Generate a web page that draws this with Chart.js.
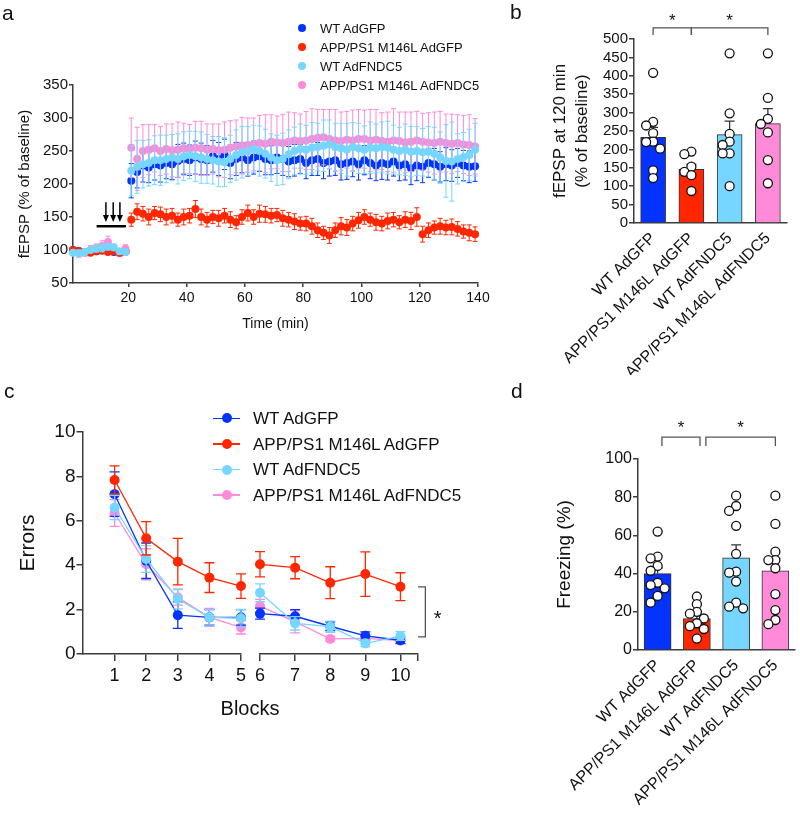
<!DOCTYPE html>
<html>
<head>
<meta charset="utf-8">
<title>FNDC5 rescues LTP and memory</title>
<script src="https://cdn.jsdelivr.net/npm/chart.js@4.4.1/dist/chart.umd.min.js"></script>
<style>
  body { margin: 0; background: #fff; }
  #page { position: relative; width: 800px; height: 816px; overflow: hidden;
          font-family: 'Liberation Sans', Arial, Helvetica, sans-serif; color: #111; }
  #page canvas { position: absolute; }
  .txt { position: absolute; line-height: 1; white-space: nowrap; }
  .dot { position: absolute; border-radius: 50%; }
  .seg { position: absolute; height: 1.5px; }
</style>
</head>
<body>
<div id="page">
  <canvas id="chartA" width="500" height="345" style="left:0;top:0"></canvas>
  <canvas id="chartB" width="310" height="375" style="left:490px;top:0"></canvas>
  <canvas id="chartC1" width="255" height="340" style="left:0;top:380px"></canvas>
  <canvas id="chartC2" width="230" height="340" style="left:250px;top:380px"></canvas>
  <canvas id="chartD" width="310" height="436" style="left:490px;top:380px"></canvas>
  <div class="txt" style="left:2px;top:2px;font-size:21px">a</div>
  <div class="txt" style="left:510px;top:1px;font-size:21px">b</div>
  <div class="txt" style="left:4px;top:380px;font-size:21px">c</div>
  <div class="txt" style="left:511px;top:380px;font-size:21px">d</div>
  <div class="txt" style="left:250px;top:698px;font-size:20px;transform:translateX(-50%)">Blocks</div>
</div>
<script>
// groups, same order in every panel
const groups = ['WT AdGFP', 'APP/PS1 M146L AdGFP', 'WT AdFNDC5', 'APP/PS1 M146L AdFNDC5'];
const colors = ['#0433ff', '#ff2600', '#76d6ff', '#ff8ad8'];

// a: fEPSP slope (% of baseline), one point every 2 min
const timeA = [1,3,5,7,9,11,13,15,17,19,21,23,25,27,29,31,33,35,37,39,41,43,45,47,49,51,53,55,57,59,
  61,63,65,67,69,71,73,75,77,79,81,83,85,87,89,91,93,95,97,99,101,103,105,107,109,111,113,115,117,119,
  121,123,125,127,129,131,133,135,137,139];
const fepspWtGfp = [100,98,97,99,98,100,99,97,96,98,
  205,218,228,225,230,228,232,230,235,238,
  236,240,238,236,242,238,245,232,238,240,
  236,240,242,238,236,240,238,234,236,238,
  232,236,238,232,234,236,230,232,234,230,
  236,232,228,232,230,234,228,230,224,228,
  226,232,230,226,230,228,232,228,226,227];
const fepspAppGfp = [100,98,97,96,98,99,97,98,96,97,
  146,158,155,150,156,154,150,152,146,150,
  152,162,150,146,150,148,152,146,142,150,
  156,150,155,154,152,153,148,146,143,140,
  140,136,130,126,122,130,136,134,140,145,
  150,146,142,140,144,146,142,146,144,150,
  124,130,134,136,134,135,132,128,126,124];
const fepspWtFndc = [96,95,97,100,102,103,105,104,98,97,
  220,226,230,232,236,236,238,240,238,242,
  244,242,240,238,236,234,233,238,244,248,
  250,253,250,246,240,236,238,245,250,253,
  252,255,256,258,260,256,254,252,256,254,
  252,255,254,256,255,252,250,252,249,250,
  248,249,246,240,235,234,238,241,244,252];
const fepspAppFndc = [98,95,96,100,103,106,112,100,95,102,
  255,238,250,252,254,250,253,251,252,254,
  253,255,254,252,253,251,252,255,257,258,
  259,260,262,261,264,263,262,264,266,265,
  266,268,270,271,268,266,265,267,266,268,
  268,266,267,265,264,266,265,263,264,266,
  264,263,262,264,262,261,262,260,259,257];
const semWtGfp = [4,5,4,5,4,5,4,4,5,4,
  26,24,25,23,24,25,24,23,25,24,
  23,25,24,22,24,25,23,24,25,23,
  24,25,23,24,22,24,25,23,24,22,
  24,23,25,24,22,23,24,25,23,24,
  22,24,23,25,24,22,23,24,25,23,
  24,22,24,23,25,24,22,23,24,23];
const semAppGfp = [3,4,3,4,3,4,3,3,4,3,
  10,12,11,12,10,11,12,11,10,12,
  11,13,12,11,10,12,11,12,10,11,
  12,11,13,12,11,10,12,11,12,10,
  11,12,11,10,12,11,13,12,11,12,
  11,10,12,11,12,11,10,12,13,14,
  12,11,10,12,11,12,11,10,12,11];
const semWtFndc = [4,5,5,4,5,6,5,5,4,5,
  38,40,36,35,37,38,36,35,38,37,
  36,38,39,37,36,38,37,36,38,39,
  37,36,38,37,36,38,39,37,36,38,
  37,38,36,39,37,36,38,40,37,38,
  36,39,37,38,40,37,36,39,38,37,
  36,38,40,39,55,60,38,37,39,40];
const semAppFndc = [5,6,5,7,6,8,9,6,5,6,
  45,48,40,38,36,37,38,40,42,38,
  37,40,41,39,38,40,42,41,40,43,
  41,40,42,44,41,40,43,45,42,41,
  44,46,43,42,45,47,44,43,46,45,
  44,47,46,43,45,48,44,46,45,44,
  43,45,47,46,44,45,43,44,46,42];
const xTicksA = [20, 40, 60, 80, 100, 120, 140];
const yTicksA = [50, 100, 150, 200, 250, 300, 350];

// b: fEPSP at 120 min
const ltpMeans = [233, 146, 240, 270];
const ltpSem = [27, 13, 37, 41];
const ltpPoints = [
  [408, 275, 265, 244, 221, 220, 202, 143, 122],
  [194, 187, 153, 139, 130, 87],
  [461, 298, 242, 221, 212, 189, 189, 100],
  [461, 340, 283, 269, 246, 171, 108]
];
const yTicksB = [0, 50, 100, 150, 200, 250, 300, 350, 400, 450, 500];

// c: errors per block
const blocks = [1, 2, 3, 4, 5, 6, 7, 8, 9, 10];
const mazeWtGfp = [7.2, 4.2, 1.75, 1.65, 1.65, 1.82, 1.7, 1.25, 0.82, 0.62];
const mazeAppGfp = [7.84, 5.21, 4.16, 3.44, 3.06, 4.04, 3.89, 3.21, 3.6, 3.03];
const mazeWtFndc = [6.6, 4.28, 2.48, 1.65, 1.61, 2.76, 1.38, 1.23, 0.48, 0.81];
const mazeAppFndc = [6.35, 4.04, 2.55, 1.65, 1.2, 2.16, 1.45, 0.68, 0.7, 0.6];
const semMazeWtGfp = [1.0, 0.8, 0.6, 0.35, 0.35, 0.25, 0.3, 0.2, 0.18, 0.15];
const semMazeAppGfp = [0.63, 0.75, 1.05, 0.67, 0.55, 0.57, 0.5, 0.72, 1.0, 0.63];
const semMazeWtFndc = [0.55, 0.6, 0.45, 0.35, 0.4, 0.4, 0.3, 0.25, 0.15, 0.2];
const semMazeAppFndc = [0.6, 0.7, 0.35, 0.4, 0.3, 0.3, 0.5, 0.1, 0.1, 0.12];
const yTicksC = [0, 2, 4, 6, 8, 10];

// d: freezing (%)
const freezeMeans = [40, 16.5, 48.3, 41.5];
const freezeSem = [2.9, 2.1, 6.7, 6.5];
const freezePoints = [
  [62, 48.9, 48, 44, 41.5, 35.2, 34, 32.3, 28.3, 24.8],
  [28, 24, 20, 19, 16.5, 14, 12.5, 11, 6],
  [80.8, 75.4, 72.8, 65, 50.3, 41, 40.5, 35.8, 24.8, 22.7, 21.8],
  [80.8, 66, 51.5, 47.1, 47.1, 42.8, 29.3, 20.9, 15.7, 13.5]
];
const yTicksD = [0, 20, 40, 60, 80, 100];

// ---------------------------------------------------------------
const FONT = "'Liberation Sans', Arial, Helvetica, sans-serif";
const INK = '#111';
const AXIS = '#3c3c3c';

Chart.defaults.font.family = FONT;
Chart.defaults.color = INK;
Chart.defaults.animation = false;
Chart.defaults.responsive = false;
Chart.defaults.plugins.legend.display = false;
Chart.defaults.plugins.tooltip.enabled = false;

// error bars: dataset.errors holds the SEM of each point
function drawErrors(chart, index, onTop) {
  const ds = chart.data.datasets[index];
  if (!ds.errors || !!ds.errorsOnTop !== onTop) return;
  const meta = chart.getDatasetMeta(index);
  const y = chart.scales[meta.yAxisID];
  const ctx = chart.ctx;
  const cap = ds.errorCap || 3;
  ctx.save();
  ctx.strokeStyle = ds.errorColor || ds.borderColor;
  ctx.lineWidth = ds.errorWidth || 1;
  ctx.beginPath();
  meta.data.forEach((el, i) => {
    const v = ds.data[i].y, e = ds.errors[i];
    const top = y.getPixelForValue(v + e);
    const bot = ds.errorsUpOnly ? y.getPixelForValue(v) : y.getPixelForValue(v - e);
    ctx.moveTo(el.x, top); ctx.lineTo(el.x, bot);
    ctx.moveTo(el.x - cap, top); ctx.lineTo(el.x + cap, top);
    if (!ds.errorsUpOnly) { ctx.moveTo(el.x - cap, bot); ctx.lineTo(el.x + cap, bot); }
  });
  ctx.stroke();
  ctx.restore();
}
Chart.register({
  id: 'errorBars',
  beforeDatasetDraw(chart, args) { drawErrors(chart, args.index, false); },
  afterDatasetDraw(chart, args) { drawErrors(chart, args.index, true); }
});

// significance brackets + stars, given in data units
function bracketPlugin(items, starSize) {
  return {
    id: 'brackets',
    afterDraw(chart) {
      const { ctx, scales: { x, y } } = chart;
      ctx.save();
      ctx.strokeStyle = '#555';
      ctx.lineWidth = 1.3;
      ctx.fillStyle = INK;
      ctx.font = starSize + 'px ' + FONT;
      ctx.textAlign = 'center';
      ctx.textBaseline = 'alphabetic';
      items.forEach(b => {
        ctx.beginPath();
        b.path.forEach(([px, py], k) => {
          const X = x.getPixelForValue(px), Y = y.getPixelForValue(py);
          if (k) ctx.lineTo(X, Y); else ctx.moveTo(X, Y);
        });
        ctx.stroke();
        ctx.fillText('*', x.getPixelForValue(b.star[0]), y.getPixelForValue(b.star[1]) + starSize * 0.58);
      });
      ctx.restore();
    }
  };
}

function axis(o) {
  return {
    type: 'linear',
    display: o.display !== false,
    position: o.position,
    min: o.min, max: o.max,
    offset: false,
    afterBuildTicks: s => { s.ticks = o.ticks.map(v => ({ value: v })); },
    afterFit: s => { if (s.isHorizontal()) s.height = o.size; else s.width = o.size; },
    border: { color: AXIS, width: 1.5 },
    grid: { drawOnChartArea: false, offset: false, drawTicks: o.tickLength > 0, tickLength: o.tickLength || 0,
            color: AXIS, lineWidth: 1.5 },
    ticks: { font: { size: o.fontSize }, color: INK, padding: o.pad || 0, autoSkip: false,
             maxRotation: o.rotation || 0, minRotation: o.rotation || 0,
             callback: o.label || (v => String(v)) },
    title: o.title ? { display: true, text: o.title, color: INK,
                       font: { size: o.titleSize, lineHeight: o.titleLineHeight || 1.2 },
                       padding: o.titlePad } : { display: false }
  };
}

// spread the dots of a column sideways (centre, left, right) so they pile up less
function swarm(groupVals, pxPerUnit, slotPx) {
  const step = 7, gap = 7.5;
  const out = [];
  groupVals.forEach((vals, g) => {
    const placed = [];
    [...vals].sort((a, b) => b - a).forEach(v => {
      const py = v * pxPerUnit;
      let best = 0, bestRoom = -1;
      for (const off of [0, -step, step]) {
        const room = Math.min(Infinity, ...placed.map(p => Math.hypot(p.off - off, p.py - py)));
        if (room >= gap) { best = off; break; }
        if (room > bestRoom) { bestRoom = room; best = off; }
      }
      placed.push({ off: best, py });
      out.push({ x: g + best / slotPx, y: v });
    });
  });
  return out;
}

// ---------------- a ----------------
const seriesA = [fepspWtGfp, fepspAppGfp, fepspWtFndc, fepspAppFndc];
const semA = [semWtGfp, semAppGfp, semWtFndc, semAppFndc];
const drawOrderA = [4, 2, 1, 3];

const tetanusPlugin = {
  id: 'tetanus',
  afterDatasetsDraw(chart) {
    const { ctx, scales: { x, y } } = chart;
    ctx.save();
    ctx.strokeStyle = '#000';
    ctx.fillStyle = '#000';
    ctx.lineWidth = 2.5;
    ctx.beginPath();
    ctx.moveTo(x.getPixelForValue(9.1), y.getPixelForValue(136));
    ctx.lineTo(x.getPixelForValue(19.2), y.getPixelForValue(136));
    ctx.stroke();
    ctx.lineWidth = 1.5;
    [12.3, 14.8, 17.1].forEach(t => {
      const px = x.getPixelForValue(t);
      const top = y.getPixelForValue(172.5), tip = y.getPixelForValue(142.5);
      ctx.beginPath(); ctx.moveTo(px, top); ctx.lineTo(px, tip - 5); ctx.stroke();
      ctx.beginPath(); ctx.moveTo(px - 3, tip - 7); ctx.lineTo(px + 3, tip - 7); ctx.lineTo(px, tip); ctx.closePath(); ctx.fill();
    });
    ctx.restore();
  }
};

new Chart(document.getElementById('chartA'), {
  type: 'scatter',
  data: {
    datasets: seriesA.map((s, i) => ({
      label: groups[i],
      data: timeA.map((t, j) => ({ x: t, y: s[j] })),
      errors: semA[i], errorCap: 2.5, errorWidth: 1,
      backgroundColor: colors[i], borderColor: colors[i],
      pointRadius: 4, pointBorderWidth: 0, order: drawOrderA[i], clip: false
    }))
  },
  options: {
    layout: { autoPadding: false, padding: { left: 0, top: 85, right: 22, bottom: 0 } },
    scales: {
      x: axis({ position: 'bottom', min: 1, max: 140, ticks: xTicksA, size: 62, fontSize: 14, tickLength: 4, pad: 3,
                title: 'Time (min)', titleSize: 14, titlePad: { top: 0, bottom: 12 } }),
      y: axis({ position: 'left', min: 50, max: 350, ticks: yTicksA, size: 73, fontSize: 15, tickLength: 4, pad: 1,
                title: 'fEPSP (% of baseline)', titleSize: 15, titlePad: { top: 16, bottom: 0 } })
    }
  },
  plugins: [tetanusPlugin]
});

// ---------------- b and d ----------------
function barChart(id, means, sems, points, o) {
  return new Chart(document.getElementById(id), {
    type: 'bar',
    data: {
      datasets: [
        { type: 'bar', data: means.map((m, i) => ({ x: i, y: m })),
          errors: sems, errorsUpOnly: true, errorsOnTop: true, errorColor: '#333', errorWidth: 1.3, errorCap: 5,
          backgroundColor: colors, borderColor: '#333', borderWidth: 1, barThickness: o.barWidth, order: 2 },
        { type: 'scatter', data: swarm(points, o.pxPerUnit, o.slotPx),
          pointRadius: 4.5, pointBackgroundColor: '#fff', pointBorderColor: INK, pointBorderWidth: 1.3,
          order: 1, clip: false }
      ]
    },
    options: {
      layout: { autoPadding: false, padding: o.padding },
      scales: {
        x: axis({ position: 'bottom', min: -0.5, max: 3.5, ticks: [0, 1, 2, 3], size: o.xSize, fontSize: 16,
                  tickLength: 0, pad: 6, rotation: 45, label: v => groups[v] }),
        y: axis({ position: 'left', min: 0, max: o.max, ticks: o.yTicks, size: o.ySize, fontSize: o.tickFont,
                  tickLength: 5, pad: 1, title: o.title, titleSize: o.titleSize, titleLineHeight: o.titleLH,
                  titlePad: { top: o.titleTop, bottom: 0 } })
      }
    },
    plugins: [bracketPlugin(o.brackets, 17)]
  });
}

barChart('chartB', ltpMeans, ltpSem, ltpPoints, {
  padding: { left: 0, top: 39, right: 13, bottom: 0 }, xSize: 152, ySize: 144,
  max: 500, yTicks: yTicksB, tickFont: 15, barWidth: 25, pxPerUnit: 0.368, slotPx: 38.25,
  title: ['fEPSP at 120 min', '(% of baseline)'], titleSize: 17, titleLH: 1.3, titleTop: 59,
  brackets: [
    { path: [[0, 511], [0, 530], [1, 530], [1, 511]], star: [0.5, 562] },
    { path: [[1, 511], [1, 530], [3, 530], [3, 511]], star: [2, 562] }
  ]
});

barChart('chartD', freezeMeans, freezeSem, freezePoints, {
  padding: { left: 0, top: 79, right: 5, bottom: 0 }, xSize: 166, ySize: 148,
  max: 100, yTicks: yTicksD, tickFont: 16, barWidth: 27, pxPerUnit: 1.91, slotPx: 39.25,
  title: 'Freezing (%)', titleSize: 19, titleLH: 1.2, titleTop: 63.6,
  brackets: [
    { path: [[0.11, 106.8], [0.11, 111.5], [1.08, 111.5], [1.08, 106.8]], star: [0.595, 118.8] },
    { path: [[1.23, 106.8], [1.23, 111.5], [3.0, 111.5], [3.0, 106.8]], star: [2.115, 118.8] }
  ]
});

// ---------------- c (broken x axis: two charts) ----------------
const seriesC = [mazeWtGfp, mazeAppGfp, mazeWtFndc, mazeAppFndc];
const semC = [semMazeWtGfp, semMazeAppGfp, semMazeWtFndc, semMazeAppFndc];
const drawOrderC = [3, 1, 2, 4];

function mazeDatasets(from, to) {
  return seriesC.map((s, i) => ({
    label: groups[i],
    data: blocks.slice(from, to).map((b, j) => ({ x: b, y: s[from + j] })),
    errors: semC[i].slice(from, to), errorCap: 5, errorWidth: 1.3,
    borderColor: colors[i], backgroundColor: colors[i], borderWidth: 1.3,
    pointRadius: 5, pointBorderWidth: 0, order: drawOrderC[i], clip: false, tension: 0
  }));
}

new Chart(document.getElementById('chartC1'), {
  type: 'line',
  data: { datasets: mazeDatasets(0, 5) },
  options: {
    layout: { autoPadding: false, padding: { left: 0, top: 52, right: 14, bottom: 0 } },
    scales: {
      x: axis({ position: 'bottom', min: 0, max: 5, ticks: [1, 2, 3, 4, 5], size: 66, fontSize: 18, tickLength: 7, pad: 4 }),
      y: axis({ position: 'left', min: 0, max: 10, ticks: yTicksC, size: 83, fontSize: 19, tickLength: 6.5, pad: 1,
                title: 'Errors', titleSize: 21, titlePad: { top: 15.4, bottom: 0 } })
    }
  }
});

new Chart(document.getElementById('chartC2'), {
  type: 'line',
  data: { datasets: mazeDatasets(5, 10) },
  options: {
    layout: { autoPadding: false, padding: { left: 10, top: 52, right: 62, bottom: 0 } },
    scales: {
      x: axis({ position: 'bottom', min: 6, max: 10.5, ticks: [6, 7, 8, 9, 10, 10.5], size: 66, fontSize: 18,
                tickLength: 7, pad: 4, label: v => Number.isInteger(v) ? String(v) : '' }),
      y: axis({ display: false, position: 'left', min: 0, max: 10, ticks: yTicksC, size: 0 })
    }
  },
  plugins: [bracketPlugin([
    { path: [[10.5, 3.02], [10.71, 3.02], [10.71, 0.77], [10.5, 0.77]], star: [11.06, 1.85] }
  ], 20)]
});

// ---------------- legends ----------------
function legend(o) {
  const page = document.getElementById('page');
  groups.forEach((name, i) => {
    const cy = o.top + i * o.step;
    if (o.line) {
      const seg = document.createElement('div');
      seg.className = 'seg';
      seg.style.cssText = `left:${o.line[0]}px;width:${o.line[1] - o.line[0]}px;top:${cy - 0.75}px;background:${colors[i]}`;
      page.appendChild(seg);
    }
    const dot = document.createElement('div');
    dot.className = 'dot';
    dot.style.cssText = `left:${o.dotX - o.r}px;top:${cy - o.r}px;width:${2 * o.r}px;height:${2 * o.r}px;background:${colors[i]}`;
    page.appendChild(dot);
    const t = document.createElement('div');
    t.className = 'txt';
    t.style.cssText = `left:${o.textX}px;top:${cy - 0.4865 * o.font}px;font-size:${o.font}px`;
    t.textContent = name;
    page.appendChild(t);
  });
}
legend({ top: 28.3, step: 19, dotX: 302, r: 4, textX: 320, font: 13 });
legend({ top: 418.3, step: 25.6, dotX: 226.7, r: 5, textX: 253, font: 17, line: [213, 240] });
</script>
</body>
</html>
